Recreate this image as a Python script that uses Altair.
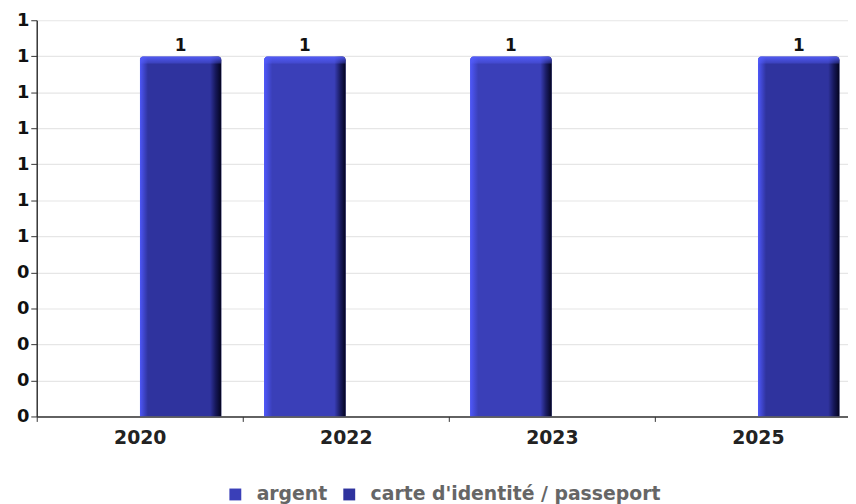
import altair as alt
import pandas as pd

years = ["2020", "2022", "2023", "2025"]
series = ["argent", "carte d'identité / passeport"]
argent = [0, 1, 1, 0]
carte = [1, 0, 0, 1]
y_ticks = [0, 0.1, 0.2, 0.3, 0.4, 0.5, 0.6, 0.7, 0.8, 0.9, 1.0, 1.1]
colors = ["#3a3fb8", "#2f339e"]

rows = []
for i, y in enumerate(years):
    rows.append({"year": y, "series": series[0], "value": argent[i]})
    rows.append({"year": y, "series": series[1], "value": carte[i]})
df = pd.DataFrame(rows)

FONT = "DejaVu Sans"

x = alt.X("year:N", sort=years, title=None,
          scale=alt.Scale(range=[0, 832], paddingInner=0, paddingOuter=0),
          axis=alt.Axis(labelAngle=0, labelFont=FONT, labelFontSize=19, labelFontWeight="bold",
                        labelColor="#222", tickBand="extent", tickSize=5, tickColor="#333",
                        domainColor="#333", domainWidth=1.5, labelPadding=7, grid=False))
xo = alt.XOffset("series:N", sort=series,
                 scale=alt.Scale(domain=series, paddingInner=0, paddingOuter=0.26))
y = alt.Y("value:Q", title=None,
          scale=alt.Scale(domain=[0, 1.1], nice=False),
          axis=alt.Axis(values=y_ticks, format=".0f", labelFont=FONT, labelFontSize=18,
                        labelFontWeight="bold", labelColor="#111", tickSize=6, tickColor="#333",
                        domainColor="#333", domainWidth=1.5, gridColor="#e6e6e6", gridWidth=1.2,
                        labelPadding=2))

base = alt.Chart(df).transform_filter(alt.datum.value > 0)

bars = base.mark_bar(cornerRadiusTopLeft=4, cornerRadiusTopRight=4).encode(
    x=x, xOffset=xo, y=y,
    color=alt.Color("series:N", sort=series,
                    scale=alt.Scale(domain=series, range=colors),
                    legend=alt.Legend(title=None, orient="none", direction="horizontal",
                                      legendX=191, legendY=469, symbolType="square",
                                      symbolSize=144, symbolStrokeWidth=0,
                                      labelFont=FONT, labelFontSize=19, labelFontWeight="bold",
                                      labelColor="#666", columnPadding=12, labelOffset=12,
                                      labelLimit=500)),
)

shade = base.mark_bar(
    cornerRadiusTopLeft=4, cornerRadiusTopRight=4,
    color=alt.LinearGradient(
        gradient="linear", x1=0, x2=1, y1=0, y2=0,
        stops=[alt.GradientStop(offset=0, color="rgba(80,90,255,0.95)"),
               alt.GradientStop(offset=0.1, color="rgba(80,90,255,0)"),
               alt.GradientStop(offset=0.86, color="rgba(0,0,30,0)"),
               alt.GradientStop(offset=0.93, color="rgba(0,0,30,0.55)"),
               alt.GradientStop(offset=1, color="rgba(0,0,20,0.95)")])
).encode(x=x, xOffset=xo, y=y)

bevel = base.mark_bar(
    cornerRadiusTopLeft=4, cornerRadiusTopRight=4,
    color=alt.LinearGradient(
        gradient="linear", x1=0, x2=0, y1=0, y2=1,
        stops=[alt.GradientStop(offset=0, color="rgba(85,95,255,0.9)"),
               alt.GradientStop(offset=0.018, color="rgba(85,95,255,0.35)"),
               alt.GradientStop(offset=0.022, color="rgba(85,95,255,0)"),
               alt.GradientStop(offset=1, color="rgba(85,95,255,0)")])
).encode(x=x, xOffset=xo, y=y)

labels = base.mark_text(font=FONT, fontSize=17, fontWeight="bold", color="#111",
                        baseline="alphabetic", dy=-5).encode(
    x=x, xOffset=xo, y=y, text=alt.Text("value:Q", format=".0f"))

chart = alt.layer(bars, shade, bevel, labels).properties(
    width=819, height=400,
    autosize=alt.AutoSizeParams(type="none"),
    padding={"left": 29, "top": 10, "right": 0, "bottom": 86},
).configure_view(stroke=None)

chart.save("out.html", embed_options={"renderer": "svg", "actions": False})
